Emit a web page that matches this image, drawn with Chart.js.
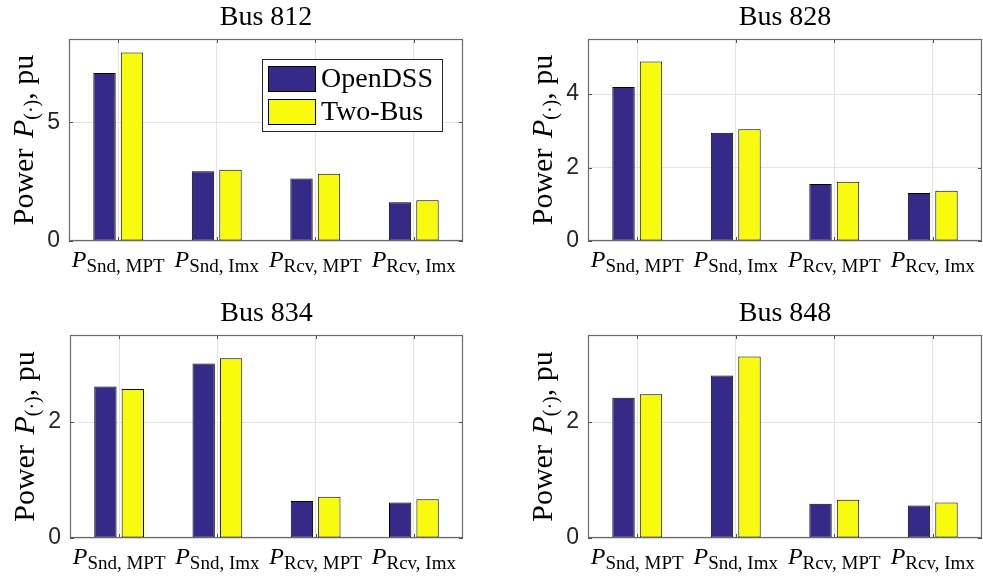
<!DOCTYPE html>
<html><head><meta charset="utf-8">
<script src="https://cdn.jsdelivr.net/npm/chart.js@4.4.1/dist/chart.umd.min.js"></script>
<style>
html,body{margin:0;padding:0;background:#fff;}
body{width:983px;height:579px;position:relative;overflow:hidden;}
.panel{position:absolute;}
</style></head><body>
<div class="panel" style="left:0px;top:0px;width:490px;height:290px"><canvas id="c1"></canvas></div>
<div class="panel" style="left:490px;top:0px;width:493px;height:290px"><canvas id="c2"></canvas></div>
<div class="panel" style="left:0px;top:290px;width:490px;height:289px"><canvas id="c3"></canvas></div>
<div class="panel" style="left:490px;top:290px;width:493px;height:289px"><canvas id="c4"></canvas></div>
<script>
// ---- data ----
const categoryMain = 'P';
const categorySubscripts = ['Snd, MPT', 'Snd, Imx', 'Rcv, MPT', 'Rcv, Imx'];
const categories = ['P_Snd,MPT', 'P_Snd,Imx', 'P_Rcv,MPT', 'P_Rcv,Imx'];
const seriesNames = ['OpenDSS', 'Two-Bus'];
const busTitles = ['Bus 812', 'Bus 828', 'Bus 834', 'Bus 848'];

const bus812OpenDSS = [7.07, 2.93, 2.63, 1.63];
const bus812TwoBus  = [7.93, 3.00, 2.83, 1.71];
const bus828OpenDSS = [4.19, 2.95, 1.55, 1.31];
const bus828TwoBus  = [4.89, 3.04, 1.61, 1.37];
const bus834OpenDSS = [2.61, 3.01, 0.64, 0.61];
const bus834TwoBus  = [2.57, 3.10, 0.71, 0.67];
const bus848OpenDSS = [2.42, 2.80, 0.59, 0.56];
const bus848TwoBus  = [2.48, 3.13, 0.66, 0.61];

const yAxisMax  = [8.5, 5.5, 3.5, 3.5];
const yTickStep = [5, 2, 2, 2];

// ---- layout / style ----
const panels = [
  {id:'c1', left:0,   top:0,   w:490, h:290, aL:69, aT:39,  aR:463, aB:241, legend:true},
  {id:'c2', left:490, top:0,   w:493, h:290, aL:588, aT:39, aR:982, aB:241},
  {id:'c3', left:0,   top:290, w:490, h:289, aL:70, aT:335, aR:463, aB:538},
  {id:'c4', left:490, top:290, w:493, h:289, aL:588, aT:335, aR:982, aB:538}
];
const seriesData = [
  [bus812OpenDSS, bus812TwoBus],
  [bus828OpenDSS, bus828TwoBus],
  [bus834OpenDSS, bus834TwoBus],
  [bus848OpenDSS, bus848TwoBus]
];
const colors = ['#352a87', '#f9fb0e'];
const SERIF = '"Liberation Serif", "Times New Roman", serif';

function drawMathLabel(ctx, parts, x, y, align) {
  let total = 0;
  parts.forEach(p => { ctx.font = p.font; p.w = ctx.measureText(p.t).width + (p.kern || 0); total += p.w; });
  let cx = align === 'center' ? x - total / 2 : x;
  ctx.textAlign = 'left';
  ctx.textBaseline = 'alphabetic';
  parts.forEach(p => { ctx.font = p.font; ctx.fillText(p.t, cx, y + (p.dy || 0)); cx += p.w; });
}

const decor = {
  id: 'decor',
  afterDraw(chart) {
    const o = chart.options.plugins.decor;
    const {ctx, chartArea: a, scales: {x, y}} = chart;
    ctx.save();
    // inward tick marks
    ctx.strokeStyle = '#4d4d4d';
    ctx.lineWidth = 1;
    ctx.beginPath();
    x.ticks.forEach((t, i) => {
      const px = Math.round(x.getPixelForTick(i)) + 0.5;
      ctx.moveTo(px, a.bottom); ctx.lineTo(px, a.bottom - 4);
      ctx.moveTo(px, a.top); ctx.lineTo(px, a.top + 4);
    });
    y.ticks.forEach((t, i) => {
      const py = Math.round(y.getPixelForTick(i)) + 0.5;
      ctx.moveTo(a.left, py); ctx.lineTo(a.left + 4, py);
      ctx.moveTo(a.right, py); ctx.lineTo(a.right - 4, py);
    });
    ctx.stroke();
    // axes box
    ctx.strokeStyle = '#6a6a6a';
    ctx.lineWidth = 1.2;
    ctx.strokeRect(a.left + 0.5, a.top + 0.5, a.right - a.left - 1, a.bottom - a.top - 1);

    ctx.fillStyle = '#000';
    // title
    ctx.font = '28px ' + SERIF;
    ctx.textAlign = 'center';
    ctx.textBaseline = 'alphabetic';
    ctx.fillText(o.title, (a.left + a.right) / 2, a.top - 14.5);

    // x category labels
    categorySubscripts.forEach((sub, i) => {
      const cx = x.getPixelForValue(i);
      drawMathLabel(ctx, [
        {t: categoryMain, font: 'italic 24px ' + SERIF, kern: 0},
        {t: sub, font: '19px ' + SERIF, dy: 5}
      ], cx, a.bottom + 26, 'center');
    });

    // y axis title
    ctx.save();
    ctx.translate(a.left - 36.5, (a.top + a.bottom) / 2);
    ctx.rotate(-Math.PI / 2);
    drawMathLabel(ctx, [
      {t: 'Power ', font: '30px ' + SERIF, kern: 3},
      {t: 'P', font: 'italic 30px ' + SERIF},
      {t: '(\u00b7)', font: '20px ' + SERIF, dy: 5},
      {t: ', pu', font: '30px ' + SERIF}
    ], 0, 0, 'center');
    ctx.restore();

    // legend
    if (o.legend) {
      const bx = a.right - 201, by = a.top + 20, bw = 180, bh = 72;
      ctx.fillStyle = '#fff';
      ctx.fillRect(bx, by, bw, bh);
      ctx.strokeStyle = '#262626';
      ctx.lineWidth = 1;
      ctx.strokeRect(bx + 0.5, by + 0.5, bw, bh);
      chart.data.datasets.forEach((ds, i) => {
        const sy = by + 7 + i * 33;
        ctx.fillStyle = ds.backgroundColor;
        ctx.fillRect(bx + 6, sy, 47, 25);
        ctx.strokeStyle = '#000';
        ctx.strokeRect(bx + 6.5, sy + 0.5, 47, 25);
        ctx.fillStyle = '#000';
        ctx.font = '28px ' + SERIF;
        ctx.textAlign = 'left';
        ctx.textBaseline = 'middle';
        ctx.fillText(ds.label, bx + 59, sy + 14);
      });
    }
    ctx.restore();
  }
};

panels.forEach((p, k) => {
  const padTop = p.aT - p.top;
  const padRight = p.left + p.w - p.aR;
  const yWidth = p.aL - p.left;
  const xHeight = p.top + p.h - p.aB;
  new Chart(document.getElementById(p.id), {
    type: 'bar',
    data: {
      labels: categories,
      datasets: seriesNames.map((name, i) => ({
        label: name,
        data: seriesData[k][i],
        backgroundColor: colors[i],
        borderColor: '#000',
        borderWidth: 1,
        borderSkipped: false,
        categoryPercentage: 0.558,
        barPercentage: 0.815
      }))
    },
    options: {
      responsive: true,
      maintainAspectRatio: false,
      animation: false,
      layout: {padding: {top: padTop, right: padRight, left: 0, bottom: 0}},
      plugins: {
        legend: {display: false},
        tooltip: {enabled: false},
        title: {display: false},
        decor: {title: busTitles[k], legend: !!p.legend}
      },
      scales: {
        x: {
          offset: true,
          grid: {offset: false, color: '#e3e3e3', lineWidth: 1, drawTicks: false},
          border: {display: false},
          ticks: {display: false},
          afterFit: s => { s.height = xHeight; }
        },
        y: {
          min: 0,
          max: yAxisMax[k],
          grid: {color: '#e3e3e3', lineWidth: 1, drawTicks: false},
          border: {display: false},
          ticks: {
            stepSize: yTickStep[k],
            includeBounds: false,
            padding: 9,
            color: '#262626',
            font: {family: '"Liberation Sans", Arial, sans-serif', size: 23}
          },
          afterFit: s => { s.width = yWidth; }
        }
      }
    },
    plugins: [decor]
  });
});
</script>
</body></html>
